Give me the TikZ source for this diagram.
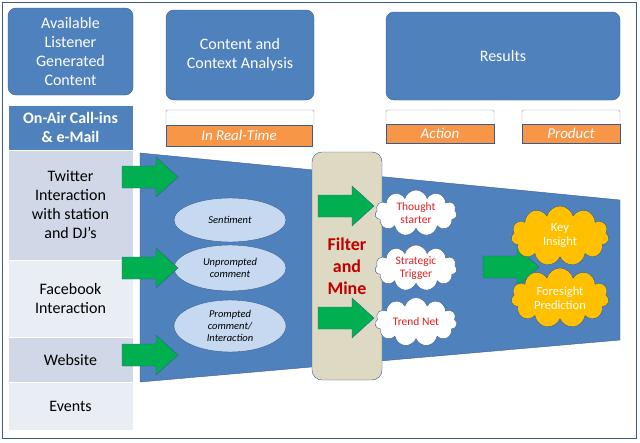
\documentclass[tikz,border=0pt]{standalone}
\usepackage{fontspec}
\setmainfont{Carlito}
\usetikzlibrary{positioning, shapes.geometric, shapes.symbols}
\definecolor{hdrblue}{HTML}{4F81BD}
\definecolor{edgeblue}{HTML}{385D8A}
\definecolor{rowa}{HTML}{D0D8E8}
\definecolor{rowb}{HTML}{E9EDF4}
\definecolor{tagorange}{HTML}{F79646}
\definecolor{arrgreen}{HTML}{00B050}
\definecolor{ovalblue}{HTML}{C6D9F1}
\definecolor{sandbg}{HTML}{DDD9C3}
\definecolor{minered}{HTML}{C00000}
\definecolor{cloudred}{HTML}{E02020}
\definecolor{goldcloud}{HTML}{FFC000}
\tikzset{
  header/.style={draw=edgeblue, fill=hdrblue, rounded corners=8pt, text=white,
    align=center, font=\fontsize{16}{19}\selectfont},
  tagbox/.style={draw=edgeblue, fill=tagorange, text=white, font=\fontsize{15}{17}\selectfont\itshape},
  capbox/.style={draw=edgeblue!60, fill=white, rounded corners=2pt},
  row/.style={draw=white, line width=1pt, text=black, align=center, font=\fontsize{16}{19}\selectfont},
  greenarrow/.pic={
    \draw[edgeblue, fill=arrgreen] (-28,-11) -- (6,-11) -- (6,-20) -- (28,0) -- (6,20) -- (6,11)
      -- (-28,11) -- cycle;},
  oval/.style={ellipse, draw=edgeblue, fill=ovalblue, align=center, inner sep=0pt,
    font=\fontsize{10.5}{12}\selectfont\itshape},
  whitecloud/.style={cloud, cloud puffs=11, aspect=1.8, draw=edgeblue, fill=white, text=cloudred,
    align=center, minimum width=82pt, minimum height=46pt, inner sep=0pt,
    font=\fontsize{11.5}{13}\selectfont},
  goldcloudst/.style={cloud, cloud puffs=11, aspect=1.6, draw=edgeblue, fill=goldcloud, text=white,
    align=center, minimum width=98pt, minimum height=60pt, inner sep=0pt,
    font=\fontsize{12.5}{14}\selectfont}
}
\begin{document}
\begin{tikzpicture}[x=1pt, y=-1pt]
  \useasboundingbox (0,0) rectangle (640,442);
  \draw[edgeblue, line width=1pt] (2,2) rectangle (636,438);

  % headers
  \node[header, minimum width=125pt, minimum height=87pt] (avail) at (70.5,51.5)
    {Available\\Listener\\Generated\\Content};
  \node[header, minimum width=148pt, minimum height=90pt] (analysis) at (240,55)
    {Content and\\Context Analysis};
  \node[header, minimum width=234pt, minimum height=88pt] (results) at (503,56) {Results};

  % tags
  \draw[capbox] (166,124) -- (166,110) -- (314,110) -- (314,124);
  \node[tagbox, minimum width=146pt, minimum height=21pt] (realtime) at (239,135.5) {In Real-Time};
  \draw[capbox] (386,124) -- (386,110) -- (494,110) -- (494,124);
  \node[tagbox, minimum width=108pt, minimum height=19pt] (action) at (440,133.5) {Action};
  \draw[capbox] (522,124) -- (522,110) -- (620,110) -- (620,124);
  \node[tagbox, minimum width=98pt, minimum height=19pt] (product) at (571,133.5) {Product};

  % left column
  \draw[edgeblue, fill=rowb] (8,105) rectangle (133,430);
  \node[row, fill=hdrblue, text=white, minimum width=125pt, minimum height=45pt,
    font=\fontsize{16}{19}\selectfont\bfseries] (onair) at (70.5,127.5) {On-Air Call-ins\\\& e-Mail};
  \node[row, fill=rowa, minimum width=125pt, minimum height=110pt] (twitter) at (70.5,205)
    {Twitter\\Interaction\\with station\\and DJ's};
  \node[row, fill=rowb, minimum width=125pt, minimum height=77pt] (facebook) at (70.5,298.5)
    {Facebook\\Interaction};
  \node[row, fill=rowa, minimum width=125pt, minimum height=45pt] (website) at (70.5,359.5) {Website};
  \node[row, fill=rowb, minimum width=125pt, minimum height=48pt] (events) at (70.5,406) {Events};

  % funnel
  \draw[edgeblue, fill=hdrblue] (140,153) -- (620,200) -- (620,340) -- (140,382) -- cycle;

  % analysis ovals
  \node[oval, minimum width=112pt, minimum height=44pt] (sentiment) at (230,220) {Sentiment};
  \node[oval, minimum width=112pt, minimum height=46pt] (unprompted) at (230,268) {Unprompted\\comment};
  \node[oval, minimum width=112pt, minimum height=52pt] (prompted) at (230,326) {Prompted\\comment/\\Interaction};

  % filter
  \node[draw=edgeblue, fill=sandbg, rounded corners=10pt, minimum width=70pt, minimum height=228pt,
    text=minered, align=center, font=\fontsize{18}{22}\selectfont\bfseries] (filter) at (347,266)
    {Filter\\and\\Mine};

  % clouds
  \node[whitecloud] (thought) at (416,213) {Thought\\starter};
  \node[whitecloud] (strategic) at (416,268) {Strategic\\Trigger};
  \node[whitecloud] (trend) at (416,322) {Trend Net};
  \pic at (511,267) {greenarrow};
  \node[goldcloudst] (insight) at (560,236) {Key\\Insight};
  \node[goldcloudst] (foresight) at (560,298) {Foresight\\Prediction};

  % green arrows
  \pic at (150,177) {greenarrow};
  \pic at (150,268) {greenarrow};
  \pic at (150,355) {greenarrow};
  \pic at (346,206) {greenarrow};
  \pic at (346,318) {greenarrow};
\end{tikzpicture}
\end{document}
